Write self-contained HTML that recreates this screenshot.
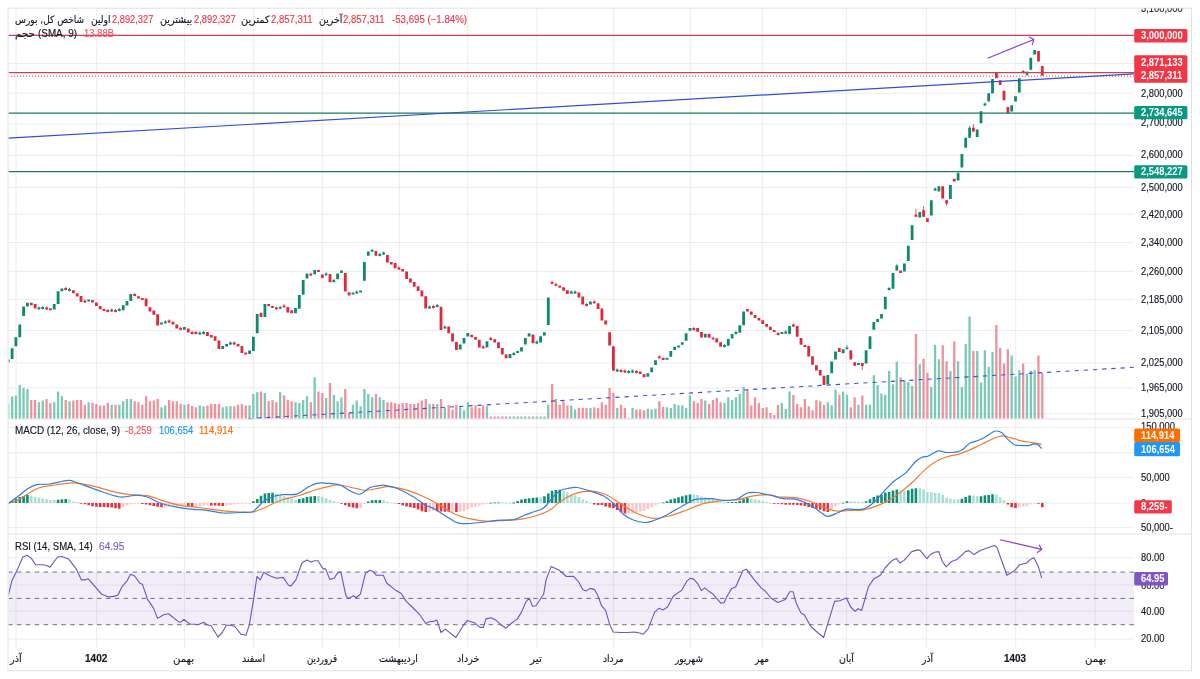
<!DOCTYPE html>
<html><head><meta charset="utf-8"><title>chart</title>
<style>
html,body{margin:0;padding:0;background:#fff;}
body{width:1200px;height:679px;position:relative;overflow:hidden;font-family:"Liberation Sans","DejaVu Sans",sans-serif;}
.ax{font-family:"Liberation Sans",sans-serif;font-size:10.2px;fill:#131722;stroke:#131722;stroke-width:0.15px;}
.axw{font-family:"Liberation Sans",sans-serif;font-size:10.2px;font-weight:bold;fill:#fff;}
.t{position:absolute;white-space:nowrap;font-size:10.2px;line-height:12px;color:#131722;transform-origin:0 0;-webkit-text-stroke:0.15px currentColor;}
.fa{font-family:"DejaVu Sans",sans-serif;font-size:10.2px;}
.rd{color:#f23645;}
</style></head><body>
<svg width="1200" height="679" viewBox="0 0 1200 679" style="position:absolute;left:0;top:0">
<defs><clipPath id="cm"><rect x="8.5" y="8.5" width="1125.5" height="410"/></clipPath>
<clipPath id="cd"><rect x="8.5" y="419.5" width="1125.5" height="114"/></clipPath>
<clipPath id="cr"><rect x="8.5" y="534.5" width="1125.5" height="113.5"/></clipPath>
<clipPath id="ca"><rect x="1134" y="8.5" width="57" height="639.5"/></clipPath>
<clipPath id="cp"><rect x="8.5" y="8.5" width="1125.5" height="640"/></clipPath></defs>
<g clip-path="url(#cp)"><path d="M16 8V648M96.7 8V648M184.4 8V648M253.3 8V648M322.7 8V648M399.3 8V648M467.7 8V648M536.9 8V648M613.3 8V648M690.7 8V648M762.7 8V648M846.7 8V648M926.7 8V648M1015.7 8V648M1095 8V648M8 63.4H1134M8 93.2H1134M8 124.2H1134M8 155.3H1134M8 187.3H1134M8 214.2H1134M8 242.5H1134M8 271.3H1134M8 299.4H1134M8 330.5H1134M8 362.9H1134M8 387.8H1134M8 413.8H1134M8 427.5H1134M8 452.8H1134M8 477.6H1134M8 503H1134M8 527.7H1134M8 557.8H1134M8 585.1H1134M8 611.2H1134M8 639H1134" stroke="#ececec" stroke-width="1" fill="none"/>
<rect x="8" y="572.1" width="1126" height="52.6" fill="#7e57c2" fill-opacity="0.1"/>
<path d="M8 572.1H1134" stroke="#6f7178" stroke-width="1" stroke-dasharray="4.5 4.4" fill="none"/>
<path d="M8 598.4H1134" stroke="#6f7178" stroke-width="1" stroke-dasharray="4.5 4.4" fill="none"/>
<path d="M8 624.7H1134" stroke="#6f7178" stroke-width="1" stroke-dasharray="4.5 4.4" fill="none"/>
<path d="M7.1 403.8h2.3v14.9h-2.3zM11 396.5h2.3v22.2h-2.3zM14.8 395.6h2.3v23.1h-2.3zM18.6 385h2.3v33.8h-2.3zM22.4 388.1h2.3v30.6h-2.3zM26.3 389h2.3v29.8h-2.3zM37.8 402.3h2.3v16.4h-2.3zM41.6 400.4h2.3v18.4h-2.3zM53.1 402.3h2.3v16.4h-2.3zM56.9 391.5h2.3v27.2h-2.3zM60.7 396.3h2.3v22.4h-2.3zM68.4 401.3h2.3v17.4h-2.3zM87.5 402.3h2.3v16.4h-2.3zM110.5 404.8h2.3v13.9h-2.3zM118.2 404.8h2.3v13.9h-2.3zM122 401.3h2.3v17.4h-2.3zM125.8 399h2.3v19.8h-2.3zM129.7 399h2.3v19.8h-2.3zM160.3 407.3h2.3v11.4h-2.3zM164.1 405.6h2.3v13.1h-2.3zM183.3 404.8h2.3v13.9h-2.3zM198.6 405.6h2.3v13.1h-2.3zM202.4 406.3h2.3v12.4h-2.3zM221.6 407.3h2.3v11.4h-2.3zM225.4 406.3h2.3v12.4h-2.3zM229.3 406.3h2.3v12.4h-2.3zM248.4 405.6h2.3v13.1h-2.3zM252.2 394h2.3v24.8h-2.3zM256.1 392.3h2.3v26.4h-2.3zM263.7 393.1h2.3v25.6h-2.3zM279 392.3h2.3v26.4h-2.3zM294.4 402.3h2.3v16.4h-2.3zM298.2 403.1h2.3v15.6h-2.3zM302 400h2.3v18.8h-2.3zM305.8 396.3h2.3v22.4h-2.3zM313.5 377.3h2.3v41.4h-2.3zM325 398.1h2.3v20.6h-2.3zM332.7 395h2.3v23.8h-2.3zM336.5 401.3h2.3v17.4h-2.3zM340.3 397.3h2.3v21.4h-2.3zM351.8 404.8h2.3v13.9h-2.3zM355.6 400.6h2.3v18.1h-2.3zM359.5 406.3h2.3v12.4h-2.3zM363.3 389h2.3v29.8h-2.3zM367.1 394h2.3v24.8h-2.3zM371 397.3h2.3v21.4h-2.3zM378.6 397.3h2.3v21.4h-2.3zM382.4 400h2.3v18.8h-2.3zM428.4 404h2.3v14.8h-2.3zM436.1 404h2.3v14.8h-2.3zM443.7 408.1h2.3v10.6h-2.3zM459 406.3h2.3v12.4h-2.3zM462.9 410.3h2.3v8.4h-2.3zM466.7 402.3h2.3v16.4h-2.3zM485.8 406.3h2.3v12.4h-2.3zM508.8 416.5h2.3v2.2h-2.3zM512.7 416.5h2.3v2.2h-2.3zM516.5 416.5h2.3v2.2h-2.3zM520.3 416.5h2.3v2.2h-2.3zM524.1 416.5h2.3v2.2h-2.3zM528 416.5h2.3v2.2h-2.3zM535.6 416.5h2.3v2.2h-2.3zM539.5 416.5h2.3v2.2h-2.3zM543.3 416.5h2.3v2.2h-2.3zM547.1 404.4h2.3v14.4h-2.3zM570.1 405.6h2.3v13.1h-2.3zM573.9 409.4h2.3v9.4h-2.3zM589.3 408.1h2.3v10.6h-2.3zM616.1 408.1h2.3v10.6h-2.3zM627.6 418h2.3v0.8h-2.3zM631.4 408.1h2.3v10.6h-2.3zM646.7 408.8h2.3v9.9h-2.3zM650.5 409.4h2.3v9.4h-2.3zM654.4 408.8h2.3v9.9h-2.3zM665.8 407.3h2.3v11.4h-2.3zM669.7 408.1h2.3v10.6h-2.3zM673.5 404h2.3v14.8h-2.3zM677.3 405.3h2.3v13.4h-2.3zM681.2 405.3h2.3v13.4h-2.3zM685 408.1h2.3v10.6h-2.3zM688.8 395.6h2.3v23.1h-2.3zM704.1 400.6h2.3v18.1h-2.3zM723.3 403.1h2.3v15.6h-2.3zM727.1 397.3h2.3v21.4h-2.3zM731 400h2.3v18.8h-2.3zM734.8 397.3h2.3v21.4h-2.3zM738.6 394h2.3v24.8h-2.3zM742.4 386.9h2.3v31.9h-2.3zM780.7 403.1h2.3v15.6h-2.3zM784.6 409h2.3v9.8h-2.3zM788.4 391.5h2.3v27.2h-2.3zM826.7 402.3h2.3v16.4h-2.3zM830.5 405.3h2.3v13.4h-2.3zM834.4 389.4h2.3v29.4h-2.3zM842 391.5h2.3v27.2h-2.3zM845.8 394.8h2.3v23.9h-2.3zM857.3 404.8h2.3v13.9h-2.3zM865 404.8h2.3v13.9h-2.3zM868.8 404.8h2.3v13.9h-2.3zM872.7 375.3h2.3v43.4h-2.3zM876.5 384.9h2.3v33.9h-2.3zM880.3 393.4h2.3v25.4h-2.3zM884.1 394.7h2.3v24.1h-2.3zM888 371h2.3v47.8h-2.3zM891.8 384.2h2.3v34.6h-2.3zM895.6 361.7h2.3v57.1h-2.3zM903.3 380.3h2.3v38.4h-2.3zM907.1 382h2.3v36.8h-2.3zM911 385.9h2.3v32.9h-2.3zM918.6 364.2h2.3v54.6h-2.3zM930.1 387.1h2.3v31.6h-2.3zM933.9 344.7h2.3v74.1h-2.3zM937.8 359.2h2.3v59.6h-2.3zM949.3 371h2.3v47.8h-2.3zM956.9 361.2h2.3v57.6h-2.3zM960.7 387.1h2.3v31.6h-2.3zM964.6 343.9h2.3v74.9h-2.3zM968.4 316.4h2.3v102.4h-2.3zM976.1 351h2.3v67.8h-2.3zM979.9 382.5h2.3v36.2h-2.3zM983.7 350.3h2.3v68.4h-2.3zM987.6 366.8h2.3v51.9h-2.3zM991.4 352h2.3v66.8h-2.3zM1010.5 355.4h2.3v63.4h-2.3zM1014.4 376.4h2.3v42.4h-2.3zM1018.2 370.2h2.3v48.6h-2.3zM1025.8 374.1h2.3v44.6h-2.3zM1029.7 370.7h2.3v48.1h-2.3zM1033.5 370.2h2.3v48.6h-2.3z" fill="#79c9b5"/>
<path d="M30.1 400h2.3v18.8h-2.3zM33.9 400h2.3v18.8h-2.3zM45.4 399h2.3v19.8h-2.3zM49.3 403.1h2.3v15.6h-2.3zM64.6 400h2.3v18.8h-2.3zM72.2 400.4h2.3v18.4h-2.3zM76.1 400h2.3v18.8h-2.3zM79.9 400h2.3v18.8h-2.3zM83.7 404.8h2.3v13.9h-2.3zM91.4 403.1h2.3v15.6h-2.3zM95.2 404h2.3v14.8h-2.3zM99 405.6h2.3v13.1h-2.3zM102.9 405.6h2.3v13.1h-2.3zM106.7 403.1h2.3v15.6h-2.3zM114.4 404.8h2.3v13.9h-2.3zM133.5 401.3h2.3v17.4h-2.3zM137.3 402.3h2.3v16.4h-2.3zM141.2 404.8h2.3v13.9h-2.3zM145 396.3h2.3v22.4h-2.3zM148.8 401.3h2.3v17.4h-2.3zM152.7 400.4h2.3v18.4h-2.3zM156.5 399h2.3v19.8h-2.3zM168 400h2.3v18.8h-2.3zM171.8 401.3h2.3v17.4h-2.3zM175.6 401.3h2.3v17.4h-2.3zM179.5 404h2.3v14.8h-2.3zM187.1 404h2.3v14.8h-2.3zM191 406h2.3v12.8h-2.3zM194.8 407.3h2.3v11.4h-2.3zM206.3 405.6h2.3v13.1h-2.3zM210.1 404h2.3v14.8h-2.3zM213.9 404h2.3v14.8h-2.3zM217.8 404h2.3v14.8h-2.3zM233.1 406.3h2.3v12.4h-2.3zM236.9 404.8h2.3v13.9h-2.3zM240.7 404h2.3v14.8h-2.3zM244.6 405.6h2.3v13.1h-2.3zM259.9 391.5h2.3v27.2h-2.3zM267.5 401.3h2.3v17.4h-2.3zM271.4 400.3h2.3v18.4h-2.3zM275.2 402.3h2.3v16.4h-2.3zM282.9 395.6h2.3v23.1h-2.3zM286.7 400h2.3v18.8h-2.3zM290.5 401.3h2.3v17.4h-2.3zM309.7 402.3h2.3v16.4h-2.3zM317.3 391.5h2.3v27.2h-2.3zM321.2 393.1h2.3v25.6h-2.3zM328.8 383.1h2.3v35.6h-2.3zM344.1 389h2.3v29.8h-2.3zM348 413.1h2.3v5.6h-2.3zM374.8 394h2.3v24.8h-2.3zM386.3 402.3h2.3v16.4h-2.3zM390.1 402.3h2.3v16.4h-2.3zM393.9 403.1h2.3v15.6h-2.3zM397.8 404h2.3v14.8h-2.3zM401.6 403.1h2.3v15.6h-2.3zM405.4 403.1h2.3v15.6h-2.3zM409.3 404h2.3v14.8h-2.3zM413.1 404h2.3v14.8h-2.3zM416.9 403.1h2.3v15.6h-2.3zM420.7 400.6h2.3v18.1h-2.3zM424.6 399h2.3v19.8h-2.3zM432.2 404h2.3v14.8h-2.3zM439.9 399h2.3v19.8h-2.3zM447.5 405h2.3v13.8h-2.3zM451.4 409.4h2.3v9.4h-2.3zM455.2 405h2.3v13.8h-2.3zM470.5 407.3h2.3v11.4h-2.3zM474.4 405.3h2.3v13.4h-2.3zM478.2 407.8h2.3v10.9h-2.3zM482 405.6h2.3v13.1h-2.3zM489.7 416.5h2.3v2.2h-2.3zM493.5 416.5h2.3v2.2h-2.3zM497.3 416.5h2.3v2.2h-2.3zM501.2 416.5h2.3v2.2h-2.3zM505 416.5h2.3v2.2h-2.3zM531.8 416.5h2.3v2.2h-2.3zM551 384h2.3v34.8h-2.3zM554.8 399h2.3v19.8h-2.3zM558.6 404.8h2.3v13.9h-2.3zM562.4 401.3h2.3v17.4h-2.3zM566.3 405.6h2.3v13.1h-2.3zM577.8 407.8h2.3v10.9h-2.3zM581.6 407.8h2.3v10.9h-2.3zM585.4 408.1h2.3v10.6h-2.3zM593.1 407.3h2.3v11.4h-2.3zM596.9 408.1h2.3v10.6h-2.3zM600.7 402.3h2.3v16.4h-2.3zM604.6 404.8h2.3v13.9h-2.3zM608.4 388.1h2.3v30.6h-2.3zM612.2 393.1h2.3v25.6h-2.3zM619.9 404.8h2.3v13.9h-2.3zM623.7 408.1h2.3v10.6h-2.3zM635.2 409.4h2.3v9.4h-2.3zM639 409.4h2.3v9.4h-2.3zM642.9 410.3h2.3v8.4h-2.3zM658.2 401.3h2.3v17.4h-2.3zM662 406.9h2.3v11.9h-2.3zM692.7 401.3h2.3v17.4h-2.3zM696.5 403.1h2.3v15.6h-2.3zM700.3 399h2.3v19.8h-2.3zM708 404h2.3v14.8h-2.3zM711.8 400h2.3v18.8h-2.3zM715.6 398.1h2.3v20.6h-2.3zM719.5 402.3h2.3v16.4h-2.3zM746.3 389.4h2.3v29.4h-2.3zM750.1 405.6h2.3v13.1h-2.3zM753.9 397.3h2.3v21.4h-2.3zM757.8 403.1h2.3v15.6h-2.3zM761.6 408.1h2.3v10.6h-2.3zM765.4 407.3h2.3v11.4h-2.3zM769.3 413.1h2.3v5.6h-2.3zM773.1 415h2.3v3.8h-2.3zM776.9 404.8h2.3v13.9h-2.3zM792.2 395h2.3v23.8h-2.3zM796.1 404h2.3v14.8h-2.3zM799.9 407.3h2.3v11.4h-2.3zM803.7 399h2.3v19.8h-2.3zM807.6 406.3h2.3v12.4h-2.3zM811.4 410.3h2.3v8.4h-2.3zM815.2 400.3h2.3v18.4h-2.3zM819 401.3h2.3v17.4h-2.3zM822.9 405h2.3v13.8h-2.3zM838.2 394.8h2.3v23.9h-2.3zM849.7 407.3h2.3v11.4h-2.3zM853.5 397.3h2.3v21.4h-2.3zM861.2 395.6h2.3v23.1h-2.3zM899.5 377.5h2.3v41.2h-2.3zM914.8 334.1h2.3v84.6h-2.3zM922.4 358.8h2.3v59.9h-2.3zM926.3 372.7h2.3v46.1h-2.3zM941.6 345.3h2.3v73.4h-2.3zM945.4 361.2h2.3v57.6h-2.3zM953.1 341.4h2.3v77.4h-2.3zM972.2 351h2.3v67.8h-2.3zM995.2 324.9h2.3v93.9h-2.3zM999 348.1h2.3v70.6h-2.3zM1002.9 363.4h2.3v55.4h-2.3zM1006.7 349.3h2.3v69.4h-2.3zM1022 363.4h2.3v55.4h-2.3zM1037.3 355.4h2.3v63.4h-2.3zM1041.2 373.1h2.3v45.6h-2.3z" fill="#f1909b"/>
<path d="M248 418.7L1134 367.3" stroke="#3f52cc" stroke-width="1.1" stroke-dasharray="4.2 5" fill="none"/>
<path d="M38.9 306.3V309.9M42.7 305.9V309.5M69.5 287.9V291.5M111.7 308.4V312M119.3 307.9V311.5M165.3 320.2V323.8M199.8 331.4V335M203.6 330.9V334.5M230.4 341.4V345M280.2 305.7V309.3M326.1 272.2V275.8M333.8 278.9V282.5M356.8 290.4V294M372.1 248.7V252.2M379.8 252.9V256.5M383.6 251.4V255M429.6 305.4V309M437.2 303.9V307.5M444.9 325.4V329M513.8 351.9V355.5M536.8 340.4V344M571.3 290.4V294M575.1 290.4V294M617.2 368.4V372M628.7 369.9V373.5M632.5 369.4V373M724.4 343.9V347.5M735.9 330.9V334.5M785.7 330.4V334M847 345V349M889.1 286.9V290.5M896.8 264V270.5M935.1 187.4V191M969.6 125.8V137.7M984.9 102.4V106M1027 71.7V76.2" stroke="#0c8a6c" stroke-width="0.8" fill="none"/>
<path d="M46.6 306.4V310M65.7 286.9V290.5M84.9 299.4V303M107.8 308.9V312.5M115.5 308.9V312.5M134.7 292.9V296.5M169.1 319.4V323M180.6 326.7V330.3M192.1 330.9V334.5M195.9 330.9V334.5M234.2 341.4V345M276.4 306.2V309.8M284 304.2V307.8M310.8 272.6V276.2M398.9 266.4V270M433.4 304.9V308.5M483.2 345.2V348.8M490.8 336.9V340.5M552.1 280.7V284.3M555.9 282.7V286.3M586.6 302.9V306.5M594.2 300.2V303.8M621 368.9V372.5M624.9 369.4V373M636.4 369.9V373.5M659.3 355.2V358.8M693.8 326.9V330.5M778.1 331.9V335.5M793.4 323.4V327M862.3 363V370M915.9 209.2V216.7M923.6 206.1V216.7M946.6 200.2V205.6M973.4 124V131.5M1023.2 69.9V73.5" stroke="#e2263b" stroke-width="0.8" fill="none"/>
<path d="M6.9 359.6h2.8v2.6h-2.8zM10.7 348.3h2.8v10.6h-2.8zM14.5 337.3h2.8v9h-2.8zM18.4 324.4h2.8v12.9h-2.8zM22.2 306.5h2.8v9.5h-2.8zM26 302.8h2.8v3.7h-2.8zM37.5 307.5h2.8v1.8h-2.8zM41.3 307.1h2.8v1.8h-2.8zM52.8 304h2.8v5.4h-2.8zM56.7 291.3h2.8v12.6h-2.8zM60.5 288.6h2.8v2.7h-2.8zM68.1 289.1h2.8v1.8h-2.8zM87.3 299.5h2.8v2h-2.8zM110.3 309.6h2.8v1.8h-2.8zM117.9 309.1h2.8v1.8h-2.8zM121.8 305.2h2.8v5h-2.8zM125.6 301h2.8v4.5h-2.8zM129.4 293.9h2.8v7.1h-2.8zM160.1 322.5h2.8v2h-2.8zM163.9 321.4h2.8v1.8h-2.8zM183 327h2.8v2.7h-2.8zM198.4 332.6h2.8v1.8h-2.8zM202.2 332.1h2.8v1.8h-2.8zM221.3 346h2.8v3h-2.8zM225.2 343.9h2.8v2.6h-2.8zM229 342.6h2.8v1.8h-2.8zM248.2 350.4h2.8v3.6h-2.8zM252 336.8h2.8v14.2h-2.8zM255.8 313.9h2.8v19.4h-2.8zM263.5 304h2.8v12.9h-2.8zM278.8 306.9h2.8v1.8h-2.8zM294.1 308h2.8v5.2h-2.8zM297.9 295.1h2.8v13.7h-2.8zM301.8 280h2.8v14.8h-2.8zM305.6 273.4h2.8v5.2h-2.8zM313.3 270h2.8v4.2h-2.8zM324.7 273.4h2.8v1.8h-2.8zM332.4 280.1h2.8v1.8h-2.8zM336.2 273.4h2.8v5.9h-2.8zM340.1 270.5h2.8v2.5h-2.8zM351.6 292.5h2.8v2h-2.8zM355.4 291.6h2.8v1.8h-2.8zM359.2 290.5h2.8v2h-2.8zM363 262.1h2.8v18.7h-2.8zM366.9 251.4h2.8v4.4h-2.8zM370.7 249.8h2.8v1.8h-2.8zM378.4 254.1h2.8v1.8h-2.8zM382.2 252.6h2.8v1.8h-2.8zM428.2 306.6h2.8v1.8h-2.8zM435.8 305.1h2.8v1.8h-2.8zM443.5 326.6h2.8v1.8h-2.8zM458.8 344.6h2.8v4.9h-2.8zM462.6 338h2.8v5.4h-2.8zM466.4 333h2.8v3.6h-2.8zM485.6 341.2h2.8v6.2h-2.8zM508.6 354.1h2.8v4.1h-2.8zM512.4 353.1h2.8v1.8h-2.8zM516.2 351h2.8v2h-2.8zM520.1 347.2h2.8v4.3h-2.8zM523.9 338.1h2.8v6.4h-2.8zM527.7 333.2h2.8v3.4h-2.8zM535.4 341.6h2.8v1.8h-2.8zM539.2 336.3h2.8v6.2h-2.8zM543 332.2h2.8v3.4h-2.8zM546.9 297.4h2.8v27.7h-2.8zM569.9 291.6h2.8v1.8h-2.8zM573.7 291.6h2.8v1.8h-2.8zM589 301.4h2.8v3.1h-2.8zM615.8 369.6h2.8v1.8h-2.8zM627.3 371.1h2.8v1.8h-2.8zM631.1 370.6h2.8v1.8h-2.8zM646.4 373.2h2.8v3.5h-2.8zM650.3 367.6h2.8v4.7h-2.8zM654.1 360.3h2.8v4.7h-2.8zM665.6 357.7h2.8v2h-2.8zM669.4 351.1h2.8v5.7h-2.8zM673.3 346.7h2.8v3.4h-2.8zM677.1 345.5h2.8v2h-2.8zM680.9 342.2h2.8v2.6h-2.8zM684.7 333.2h2.8v7.6h-2.8zM688.6 328.1h2.8v2.7h-2.8zM703.9 333.8h2.8v3.6h-2.8zM723 345.1h2.8v1.8h-2.8zM726.9 339.1h2.8v6.7h-2.8zM730.7 333.9h2.8v4.7h-2.8zM734.5 332.1h2.8v1.8h-2.8zM738.4 325.3h2.8v7.4h-2.8zM742.2 311.4h2.8v13.9h-2.8zM780.5 332h2.8v2h-2.8zM784.3 331.6h2.8v1.8h-2.8zM788.2 326.1h2.8v7.8h-2.8zM826.4 375.1h2.8v9.1h-2.8zM830.3 361.6h2.8v11.7h-2.8zM834.1 351.6h2.8v7.9h-2.8zM841.8 349.3h2.8v4h-2.8zM845.6 347.4h2.8v1.8h-2.8zM857.1 363h2.8v2h-2.8zM864.7 350.3h2.8v13.1h-2.8zM868.6 336.2h2.8v12.7h-2.8zM872.4 322h2.8v7.8h-2.8zM876.2 319h2.8v3h-2.8zM880.1 313.9h2.8v4.6h-2.8zM883.9 296.8h2.8v12.4h-2.8zM887.7 288.1h2.8v1.8h-2.8zM891.6 273.1h2.8v15.7h-2.8zM895.4 265.5h2.8v5h-2.8zM903 263.5h2.8v8h-2.8zM906.9 245.7h2.8v15.3h-2.8zM910.7 225.2h2.8v14.7h-2.8zM918.4 212.1h2.8v5.4h-2.8zM929.9 200.3h2.8v15.3h-2.8zM933.7 188.6h2.8v1.8h-2.8zM937.5 186.3h2.8v5.2h-2.8zM949 184.9h2.8v14.2h-2.8zM956.7 172.8h2.8v7.7h-2.8zM960.5 154h2.8v13.5h-2.8zM964.3 137.7h2.8v10h-2.8zM968.2 127.8h2.8v9.9h-2.8zM975.8 129.4h2.8v7.7h-2.8zM979.6 111.3h2.8v11.9h-2.8zM983.5 103.6h2.8v1.8h-2.8zM987.3 93.3h2.8v8.2h-2.8zM991.1 79h2.8v14.6h-2.8zM1010.3 105.2h2.8v6.3h-2.8zM1014.1 96.2h2.8v5.3h-2.8zM1017.9 78.3h2.8v14.2h-2.8zM1025.6 71.7h2.8v3.1h-2.8zM1029.4 57.8h2.8v11.9h-2.8zM1033.3 49.9h2.8v4.6h-2.8z" fill="#0c8a6c"/>
<path d="M29.9 302.8h2.8v2.4h-2.8zM33.7 304.1h2.8v4.4h-2.8zM45.2 307.6h2.8v1.8h-2.8zM49 308.2h2.8v2h-2.8zM64.3 288.1h2.8v1.8h-2.8zM72 290.3h2.8v3h-2.8zM75.8 293.3h2.8v3.3h-2.8zM79.6 296h2.8v5.9h-2.8zM83.5 300.6h2.8v1.8h-2.8zM91.1 299.9h2.8v2.6h-2.8zM95 302.5h2.8v3.4h-2.8zM98.8 305.9h2.8v3.3h-2.8zM102.6 309h2.8v2h-2.8zM106.4 310.1h2.8v1.8h-2.8zM114.1 310.1h2.8v1.8h-2.8zM133.3 294.1h2.8v1.8h-2.8zM137.1 296.2h2.8v2.4h-2.8zM140.9 298h2.8v2h-2.8zM144.7 298.6h2.8v7.7h-2.8zM148.6 307.2h2.8v4.4h-2.8zM152.4 310.5h2.8v4.2h-2.8zM156.2 314.2h2.8v11.2h-2.8zM167.7 320.6h2.8v1.8h-2.8zM171.6 321.8h2.8v2.6h-2.8zM175.4 324.4h2.8v4h-2.8zM179.2 327.9h2.8v1.8h-2.8zM186.9 328.4h2.8v4h-2.8zM190.7 332.1h2.8v1.8h-2.8zM194.5 332.1h2.8v1.8h-2.8zM206 331.9h2.8v4h-2.8zM209.9 335h2.8v2.5h-2.8zM213.7 336.3h2.8v4.4h-2.8zM217.5 340.4h2.8v8.6h-2.8zM232.8 342.6h2.8v1.8h-2.8zM236.7 343.9h2.8v2.6h-2.8zM240.5 346h2.8v7h-2.8zM244.3 352.5h2.8v2h-2.8zM259.6 312.8h2.8v4.1h-2.8zM267.3 304h2.8v2.3h-2.8zM271.1 306h2.8v2h-2.8zM275 307.4h2.8v1.8h-2.8zM282.6 305.4h2.8v1.8h-2.8zM286.4 307.1h2.8v5.3h-2.8zM290.3 310.3h2.8v2.9h-2.8zM309.4 273.8h2.8v1.8h-2.8zM317.1 270h2.8v2h-2.8zM320.9 274.5h2.8v3.4h-2.8zM328.6 273.9h2.8v8.4h-2.8zM343.9 273h2.8v18.6h-2.8zM347.7 292.2h2.8v3.3h-2.8zM374.5 250.9h2.8v4.9h-2.8zM386 255h2.8v7.6h-2.8zM389.9 262h2.8v2.5h-2.8zM393.7 263h2.8v5.3h-2.8zM397.5 267.6h2.8v1.8h-2.8zM401.3 269h2.8v2.5h-2.8zM405.2 271.4h2.8v7.5h-2.8zM409 278.5h2.8v3.9h-2.8zM412.8 282h2.8v4.8h-2.8zM416.7 286.3h2.8v4.6h-2.8zM420.5 290.4h2.8v6.1h-2.8zM424.3 296.2h2.8v12.4h-2.8zM432 306.1h2.8v1.8h-2.8zM439.6 306.8h2.8v23.3h-2.8zM447.3 326.6h2.8v6.7h-2.8zM451.1 333.3h2.8v8.3h-2.8zM455 342.1h2.8v7.8h-2.8zM470.3 334.8h2.8v2.5h-2.8zM474.1 337.1h2.8v2.6h-2.8zM477.9 339.7h2.8v7.7h-2.8zM481.8 346.4h2.8v1.8h-2.8zM489.4 338.1h2.8v1.8h-2.8zM493.3 339.2h2.8v3.3h-2.8zM497.1 342.3h2.8v5.9h-2.8zM500.9 347.9h2.8v6.7h-2.8zM504.7 354.4h2.8v3.8h-2.8zM531.6 334.5h2.8v8.8h-2.8zM550.7 281.9h2.8v1.8h-2.8zM554.5 283.9h2.8v1.8h-2.8zM558.4 285.5h2.8v2.2h-2.8zM562.2 287.3h2.8v3.5h-2.8zM566 290.3h2.8v3.6h-2.8zM577.5 292.6h2.8v4.8h-2.8zM581.3 296.5h2.8v8h-2.8zM585.2 304.1h2.8v1.8h-2.8zM592.8 301.4h2.8v1.8h-2.8zM596.7 303.2h2.8v5.7h-2.8zM600.5 308.5h2.8v11.9h-2.8zM604.3 320.4h2.8v4h-2.8zM608.2 332.2h2.8v13.4h-2.8zM612 346.3h2.8v24.4h-2.8zM619.6 370.1h2.8v1.8h-2.8zM623.5 370.6h2.8v1.8h-2.8zM635 371.1h2.8v1.8h-2.8zM638.8 371.6h2.8v2.4h-2.8zM642.6 374.3h2.8v2.9h-2.8zM657.9 356.4h2.8v1.8h-2.8zM661.8 357.7h2.8v2.3h-2.8zM692.4 328.1h2.8v1.8h-2.8zM696.2 328.1h2.8v3.7h-2.8zM700.1 332.1h2.8v5.3h-2.8zM707.7 333.8h2.8v4h-2.8zM711.6 337.5h2.8v2h-2.8zM715.4 338.2h2.8v4.2h-2.8zM719.2 342.2h2.8v4.5h-2.8zM746 309.1h2.8v2.3h-2.8zM749.9 311.4h2.8v3.3h-2.8zM753.7 315h2.8v3h-2.8zM757.5 318h2.8v2.6h-2.8zM761.3 320.2h2.8v3.7h-2.8zM765.2 323.9h2.8v2.9h-2.8zM769 326.8h2.8v3.3h-2.8zM772.8 330h2.8v2h-2.8zM776.7 333.1h2.8v1.8h-2.8zM792 324.6h2.8v1.8h-2.8zM795.8 326.1h2.8v10.7h-2.8zM799.6 337.9h2.8v6.9h-2.8zM803.5 345h2.8v2h-2.8zM807.3 346h2.8v10.6h-2.8zM811.1 356.3h2.8v8.5h-2.8zM815 365.2h2.8v5.3h-2.8zM818.8 370.1h2.8v5.3h-2.8zM822.6 375.8h2.8v9.3h-2.8zM837.9 348h2.8v4.1h-2.8zM849.4 350.3h2.8v9.2h-2.8zM853.3 362.2h2.8v3.5h-2.8zM860.9 363h2.8v3h-2.8zM899.2 270.5h2.8v2.5h-2.8zM914.5 214.8h2.8v1.9h-2.8zM922.2 210.3h2.8v6.4h-2.8zM926 218.3h2.8v3.8h-2.8zM941.3 186.3h2.8v12.1h-2.8zM945.2 200.2h2.8v3.2h-2.8zM952.8 178.8h2.8v2.7h-2.8zM972 127.8h2.8v3.7h-2.8zM995 73h2.8v5.3h-2.8zM998.8 80.3h2.8v4.7h-2.8zM1002.6 90.7h2.8v9.5h-2.8zM1006.5 107.1h2.8v6.1h-2.8zM1021.8 71.1h2.8v1.8h-2.8zM1037.1 50.9h2.8v10.6h-2.8zM1040.9 66h2.8v9.7h-2.8z" fill="#e2263b"/>
<path d="M8 35.4H1134" stroke="#d2404f" stroke-width="1.3" fill="none"/>
<path d="M8 72.6H1134" stroke="#d2404f" stroke-width="1.3" fill="none"/>
<path d="M8 76.2H1134" stroke="#f23645" stroke-width="1" stroke-dasharray="1 2" fill="none"/>
<path d="M8 113.1H1134" stroke="#1b7a5f" stroke-width="1.2" fill="none"/>
<path d="M8 171.6H1134" stroke="#1b7a5f" stroke-width="1.2" fill="none"/>
<path d="M8 138.2L1134 73.8" stroke="#2f4fd6" stroke-width="1.2" fill="none"/>
<path d="M988.2 58.1L1033.8 39.4M1029.3 37.1L1033.8 39.4L1032.4 44.4" stroke="#8e3cc0" stroke-width="1.1" fill="none" stroke-linecap="round" stroke-linejoin="round"/>
<path d="M1000.2 539.7L1041.8 549.4M1039.3 545.1L1041.8 549.4L1037.4 552.5" stroke="#8e3cc0" stroke-width="1.1" fill="none" stroke-linecap="round" stroke-linejoin="round"/>
<path d="M7 502.9h2.6v0.8h-2.6zM10.8 501h2.6v1.9h-2.6zM14.6 498.7h2.6v4.2h-2.6zM18.5 497h2.6v5.9h-2.6zM22.3 496h2.6v6.9h-2.6zM26.1 495h2.6v7.9h-2.6zM56.8 499.7h2.6v3.2h-2.6zM60.6 499.3h2.6v3.6h-2.6zM64.4 498.9h2.6v4h-2.6zM252.1 501.2h2.6v1.7h-2.6zM255.9 499.1h2.6v3.8h-2.6zM259.7 495.8h2.6v7.1h-2.6zM263.6 493.5h2.6v9.4h-2.6zM267.4 492.9h2.6v10h-2.6zM271.2 492.7h2.6v10.2h-2.6zM298 498.9h2.6v4h-2.6zM301.9 498.2h2.6v4.7h-2.6zM305.7 497h2.6v5.9h-2.6zM309.5 496.4h2.6v6.5h-2.6zM313.4 495.9h2.6v7h-2.6zM367 501.5h2.6v1.4h-2.6zM370.8 500.2h2.6v2.7h-2.6zM374.6 500h2.6v2.9h-2.6zM378.5 499.9h2.6v3h-2.6zM489.5 502.8h2.6v0.8h-2.6zM493.4 502.5h2.6v0.8h-2.6zM497.2 502.4h2.6v0.8h-2.6zM512.5 502.6h2.6v0.8h-2.6zM516.3 501.1h2.6v1.8h-2.6zM520.2 499.5h2.6v3.4h-2.6zM524 498.8h2.6v4.1h-2.6zM527.8 498.3h2.6v4.6h-2.6zM531.7 497.8h2.6v5.1h-2.6zM535.5 497.4h2.6v5.5h-2.6zM543.1 496.3h2.6v6.6h-2.6zM547 493.6h2.6v9.3h-2.6zM550.8 490.8h2.6v12.1h-2.6zM554.6 490.1h2.6v12.8h-2.6zM558.5 489.8h2.6v13.1h-2.6zM661.9 502.5h2.6v0.8h-2.6zM665.7 501.2h2.6v1.7h-2.6zM669.5 499.4h2.6v3.5h-2.6zM673.4 498.4h2.6v4.5h-2.6zM677.2 497.3h2.6v5.6h-2.6zM681 496.3h2.6v6.6h-2.6zM684.8 495.3h2.6v7.6h-2.6zM688.7 494.4h2.6v8.5h-2.6zM727 502.3h2.6v0.8h-2.6zM730.8 502.1h2.6v0.8h-2.6zM734.6 502h2.6v0.9h-2.6zM738.5 500.7h2.6v2.2h-2.6zM742.3 499.2h2.6v3.7h-2.6zM746.1 498h2.6v4.9h-2.6zM841.9 502.8h2.6v0.8h-2.6zM845.7 501.3h2.6v1.6h-2.6zM864.8 501.2h2.6v1.6h-2.6zM868.7 499.2h2.6v3.7h-2.6zM872.5 497.1h2.6v5.8h-2.6zM876.3 495.4h2.6v7.5h-2.6zM880.2 494.6h2.6v8.3h-2.6zM884 492.5h2.6v10.4h-2.6zM887.8 492.1h2.6v10.8h-2.6zM891.7 490.4h2.6v12.5h-2.6zM895.5 489.6h2.6v13.3h-2.6zM907 490.2h2.6v12.7h-2.6zM910.8 488.8h2.6v14.1h-2.6zM914.6 488.2h2.6v14.7h-2.6zM960.6 498.8h2.6v4.1h-2.6zM964.4 497.1h2.6v5.8h-2.6zM968.3 495.4h2.6v7.5h-2.6zM979.7 496.2h2.6v6.6h-2.6zM983.6 495.2h2.6v7.7h-2.6zM987.4 495h2.6v7.9h-2.6zM991.2 494.3h2.6v8.6h-2.6z" fill="#0e8f74"/>
<path d="M30 495.9h2.6v7h-2.6zM33.8 496.8h2.6v6.1h-2.6zM37.6 497.6h2.6v5.3h-2.6zM41.4 498.4h2.6v4.5h-2.6zM45.3 499.3h2.6v3.6h-2.6zM49.1 500h2.6v2.9h-2.6zM52.9 500h2.6v2.9h-2.6zM68.2 499.4h2.6v3.5h-2.6zM72.1 501.4h2.6v1.5h-2.6zM75.9 502h2.6v0.9h-2.6zM275.1 494h2.6v8.9h-2.6zM278.9 495.4h2.6v7.5h-2.6zM282.7 496.3h2.6v6.6h-2.6zM286.5 497.4h2.6v5.5h-2.6zM290.4 498.6h2.6v4.3h-2.6zM294.2 499.7h2.6v3.2h-2.6zM317.2 495.9h2.6v7h-2.6zM321 497.1h2.6v5.8h-2.6zM324.8 498.2h2.6v4.7h-2.6zM328.7 499.9h2.6v3h-2.6zM332.5 501.2h2.6v1.7h-2.6zM336.3 502.3h2.6v0.8h-2.6zM382.3 500.2h2.6v2.7h-2.6zM386.1 501.8h2.6v1.1h-2.6zM390 502.5h2.6v0.8h-2.6zM393.8 502.9h2.6v0.8h-2.6zM501 502.5h2.6v0.8h-2.6zM504.8 502.6h2.6v0.8h-2.6zM508.7 502.7h2.6v0.8h-2.6zM539.3 497.6h2.6v5.3h-2.6zM562.3 491h2.6v11.9h-2.6zM566.1 492.2h2.6v10.7h-2.6zM570 494.2h2.6v8.7h-2.6zM573.8 495.2h2.6v7.7h-2.6zM577.6 497h2.6v5.9h-2.6zM581.4 499.5h2.6v3.4h-2.6zM585.3 501h2.6v1.9h-2.6zM589.1 502.7h2.6v0.8h-2.6zM692.5 494.5h2.6v8.4h-2.6zM696.3 494.9h2.6v8h-2.6zM700.2 496.5h2.6v6.4h-2.6zM704 497.6h2.6v5.3h-2.6zM707.8 498.2h2.6v4.7h-2.6zM711.7 499.1h2.6v3.8h-2.6zM715.5 500.6h2.6v2.3h-2.6zM719.3 501.9h2.6v1h-2.6zM723.1 502.4h2.6v0.8h-2.6zM750 498.8h2.6v4.1h-2.6zM753.8 499.2h2.6v3.7h-2.6zM757.6 499.8h2.6v3.1h-2.6zM761.4 501h2.6v1.9h-2.6zM765.3 502h2.6v0.9h-2.6zM769.1 502.9h2.6v0.8h-2.6zM849.5 501.4h2.6v1.5h-2.6zM853.4 501.6h2.6v1.3h-2.6zM857.2 501.7h2.6v1.2h-2.6zM861 501.8h2.6v1.1h-2.6zM899.3 490.4h2.6v12.5h-2.6zM903.1 490.4h2.6v12.5h-2.6zM918.5 488.2h2.6v14.7h-2.6zM922.3 489.6h2.6v13.3h-2.6zM926.1 492.1h2.6v10.8h-2.6zM930 492.1h2.6v10.8h-2.6zM933.8 492.9h2.6v10h-2.6zM937.6 493.2h2.6v9.7h-2.6zM941.4 495h2.6v7.9h-2.6zM945.3 497.7h2.6v5.2h-2.6zM949.1 498.8h2.6v4.1h-2.6zM952.9 499.6h2.6v3.3h-2.6zM956.8 499.3h2.6v3.6h-2.6zM972.1 495.4h2.6v7.5h-2.6zM975.9 496.2h2.6v6.6h-2.6zM995.1 494.8h2.6v8.1h-2.6zM998.9 497.3h2.6v5.6h-2.6zM1002.7 500.2h2.6v2.7h-2.6z" fill="#a9ded3"/>
<path d="M121.9 502.9h2.6v4.4h-2.6zM125.7 502.9h2.6v2.7h-2.6zM129.5 502.9h2.6v1.4h-2.6zM133.4 502.9h2.6v0.8h-2.6zM137.2 502.9h2.6v0.8h-2.6zM164 502.9h2.6v3.9h-2.6zM167.8 502.9h2.6v3.9h-2.6zM171.7 502.9h2.6v3.8h-2.6zM175.5 502.9h2.6v3.8h-2.6zM179.3 502.9h2.6v3.4h-2.6zM183.1 502.9h2.6v3h-2.6zM194.6 502.9h2.6v3.4h-2.6zM198.5 502.9h2.6v3h-2.6zM202.3 502.9h2.6v2.6h-2.6zM206.1 502.9h2.6v2.3h-2.6zM225.3 502.9h2.6v2.6h-2.6zM229.1 502.9h2.6v2.1h-2.6zM232.9 502.9h2.6v1.5h-2.6zM236.8 502.9h2.6v1h-2.6zM240.6 502.9h2.6v0.8h-2.6zM244.4 502.9h2.6v0.8h-2.6zM248.3 502.9h2.6v0.8h-2.6zM359.3 502.9h2.6v5.2h-2.6zM363.1 502.9h2.6v1.2h-2.6zM428.3 502.9h2.6v8.6h-2.6zM432.1 502.9h2.6v8.2h-2.6zM451.2 502.9h2.6v8.8h-2.6zM458.9 502.9h2.6v8.9h-2.6zM462.7 502.9h2.6v8.1h-2.6zM466.5 502.9h2.6v6.4h-2.6zM470.4 502.9h2.6v4.7h-2.6zM474.2 502.9h2.6v3.8h-2.6zM478 502.9h2.6v2.9h-2.6zM481.9 502.9h2.6v1.7h-2.6zM485.7 502.9h2.6v0.8h-2.6zM627.4 502.9h2.6v10.6h-2.6zM631.2 502.9h2.6v10.5h-2.6zM635.1 502.9h2.6v9.1h-2.6zM638.9 502.9h2.6v8.5h-2.6zM642.7 502.9h2.6v8.1h-2.6zM646.5 502.9h2.6v6.3h-2.6zM650.4 502.9h2.6v4h-2.6zM654.2 502.9h2.6v2.2h-2.6zM658 502.9h2.6v0.9h-2.6zM830.4 502.9h2.6v6.2h-2.6zM834.2 502.9h2.6v3.2h-2.6zM838 502.9h2.6v1.5h-2.6zM1018 502.9h2.6v4.2h-2.6zM1021.9 502.9h2.6v3.6h-2.6zM1025.7 502.9h2.6v3.4h-2.6zM1029.5 502.9h2.6v1.7h-2.6zM1033.4 502.9h2.6v0.8h-2.6z" fill="#f9c6cb"/>
<path d="M79.7 502.9h2.6v0.8h-2.6zM83.6 502.9h2.6v1.3h-2.6zM87.4 502.9h2.6v2.3h-2.6zM91.2 502.9h2.6v3.3h-2.6zM95.1 502.9h2.6v3.8h-2.6zM98.9 502.9h2.6v4h-2.6zM102.7 502.9h2.6v4.2h-2.6zM106.5 502.9h2.6v4.4h-2.6zM110.4 502.9h2.6v4.7h-2.6zM114.2 502.9h2.6v5.3h-2.6zM118 502.9h2.6v5.9h-2.6zM141 502.9h2.6v1h-2.6zM144.8 502.9h2.6v1.6h-2.6zM148.7 502.9h2.6v2.4h-2.6zM152.5 502.9h2.6v3.1h-2.6zM156.3 502.9h2.6v3.9h-2.6zM160.2 502.9h2.6v4.3h-2.6zM187 502.9h2.6v3.7h-2.6zM190.8 502.9h2.6v3.8h-2.6zM210 502.9h2.6v2.5h-2.6zM213.8 502.9h2.6v2.7h-2.6zM217.6 502.9h2.6v2.9h-2.6zM221.4 502.9h2.6v3.1h-2.6zM340.2 502.9h2.6v0.8h-2.6zM344 502.9h2.6v2.3h-2.6zM347.8 502.9h2.6v3.9h-2.6zM351.7 502.9h2.6v4.7h-2.6zM355.5 502.9h2.6v5.3h-2.6zM397.6 502.9h2.6v1h-2.6zM401.4 502.9h2.6v2.5h-2.6zM405.3 502.9h2.6v3.6h-2.6zM409.1 502.9h2.6v4.3h-2.6zM412.9 502.9h2.6v5.1h-2.6zM416.8 502.9h2.6v6.7h-2.6zM420.6 502.9h2.6v8.3h-2.6zM424.4 502.9h2.6v9h-2.6zM435.9 502.9h2.6v8.4h-2.6zM439.7 502.9h2.6v8.7h-2.6zM443.6 502.9h2.6v8.9h-2.6zM447.4 502.9h2.6v8.9h-2.6zM455.1 502.9h2.6v9.2h-2.6zM592.9 502.9h2.6v1.6h-2.6zM596.8 502.9h2.6v2h-2.6zM600.6 502.9h2.6v2.2h-2.6zM604.4 502.9h2.6v3.5h-2.6zM608.3 502.9h2.6v4.5h-2.6zM612.1 502.9h2.6v5.1h-2.6zM615.9 502.9h2.6v7.2h-2.6zM619.7 502.9h2.6v9.4h-2.6zM623.6 502.9h2.6v10.7h-2.6zM772.9 502.9h2.6v0.8h-2.6zM776.8 502.9h2.6v0.8h-2.6zM780.6 502.9h2.6v1.4h-2.6zM784.4 502.9h2.6v1.8h-2.6zM788.3 502.9h2.6v1.8h-2.6zM792.1 502.9h2.6v1.8h-2.6zM795.9 502.9h2.6v2.1h-2.6zM799.7 502.9h2.6v2.7h-2.6zM803.6 502.9h2.6v3.2h-2.6zM807.4 502.9h2.6v4.1h-2.6zM811.2 502.9h2.6v5h-2.6zM815.1 502.9h2.6v5.8h-2.6zM818.9 502.9h2.6v6.9h-2.6zM822.7 502.9h2.6v8.3h-2.6zM826.5 502.9h2.6v9.1h-2.6zM1006.6 502.9h2.6v1.7h-2.6zM1010.4 502.9h2.6v4.4h-2.6zM1014.2 502.9h2.6v5h-2.6zM1037.2 502.9h2.6v0.9h-2.6zM1041 502.9h2.6v4.4h-2.6z" fill="#ec2f40"/>
<path d="M8.8 503C10.4 502.5 13.7 502.4 18.4 500C23.1 497.6 30.7 491.2 36.8 488.7C42.9 486.2 49.1 486 55.2 485C61.4 484 67.6 482.7 73.7 482.8C79.8 482.9 86 484.5 92.1 485.9C98.2 487.2 104.4 489.4 110.5 490.9C116.6 492.3 122.8 493.8 128.9 494.6C135 495.4 141.2 494.5 147.3 495.7C153.4 496.9 159.5 499.9 165.7 501.6C171.8 503.4 180.1 505.4 184.2 506.2C188.2 507 186.2 505.9 190 506.3C193.8 506.7 201.1 507.9 206.7 508.7C212.2 509.4 217.8 510.2 223.3 510.8C228.9 511.4 235 511.8 240 512C245 512.2 249.1 512.8 253.3 512C257.5 511.2 260.3 509.5 265 507.5C269.7 505.5 276.1 501.9 281.7 500C287.2 498.1 292.8 497.5 298.3 495.8C303.9 494.1 309.4 491.7 315 490C320.6 488.3 327.5 486.6 331.7 485.8C335.9 485 335.8 484.5 340 485C344.2 485.5 352.5 487.8 356.7 488.7C360.9 489.6 361.7 490.3 365 490.3C368.3 490.3 372.8 489.3 376.7 488.7C380.6 488.1 383.6 486.5 388.3 486.7C393 486.9 399.4 488.2 405 489.7C410.6 491.2 416.1 493.4 421.7 495.8C427.2 498.2 432.8 501.1 438.3 504.2C443.9 507.3 449.4 511.7 455 514.2C460.6 516.7 466.1 518 471.7 519.2C477.2 520.4 482.8 521.1 488.3 521.3C493.9 521.5 499.4 520.6 505 520.3C510.6 519.9 516.2 520.1 521.7 519.2C527.2 518.3 533.6 516.5 538.3 515C543 513.5 546.4 512.2 550 510C553.6 507.8 556.4 504.2 560 501.7C563.6 499.2 567.8 496.7 571.7 495C575.6 493.3 579.4 492.3 583.3 491.7C587.2 491.1 591.1 490.8 595 491.3C598.9 491.9 602.5 493 606.7 495C610.9 497 615 500.2 620 503.3C625 506.4 631.2 510.8 636.7 513.3C642.2 515.8 647.8 517.9 653.3 518.3C658.8 518.7 664.4 517.2 670 515.8C675.6 514.4 681.2 512 686.7 510C692.2 508 697.8 505.2 703.3 503.7C708.8 502.2 714.4 501.4 720 500.8C725.6 500.2 731.2 500.8 736.7 500C742.2 499.2 747.8 496.6 753.3 495.8C758.8 495 765.9 494.8 770 495C774.1 495.2 773.5 496.4 777.7 496.9C781.9 497.3 790 497 795.3 497.7C800.6 498.4 805.1 499.8 809.5 501.3C813.9 502.8 817.4 505 821.8 506.6C826.2 508.2 831.6 510.4 836 511C840.4 511.6 843.9 510.6 848.3 510.5C852.7 510.4 858.1 510.8 862.5 510.1C866.9 509.5 870.7 508.1 874.8 506.6C878.9 505.1 882.8 503.8 887.2 501.3C891.6 498.8 896.9 495 901.3 491.6C905.7 488.2 909.6 484.8 913.7 481C917.8 477.2 922.3 471.9 926.1 468.6C929.9 465.3 933.2 463 936.7 461C940.2 459 943.4 457.9 947.3 456.7C951.2 455.5 955.5 455.2 960.2 453.6C964.9 452.1 971 449.3 975.3 447.4C979.6 445.5 982.1 443.9 985.9 442.1C989.7 440.3 995.3 437.8 998.3 436.8C1001.2 435.8 1001.5 435.8 1003.6 435.9C1005.7 436 1007.8 436.9 1010.7 437.7C1013.7 438.5 1017.8 440 1021.3 440.8C1024.8 441.6 1028.5 442 1031.9 442.6C1035.3 443.2 1040 444.1 1041.6 444.4" stroke="#f47a2c" stroke-width="1.2" fill="none" stroke-linejoin="round"/>
<path d="M8.8 503C10.4 501.8 15.3 498.4 18.4 496C21.5 493.6 24.5 490.6 27.6 488.7C30.7 486.8 33.1 485.4 36.8 484.6C40.5 483.8 44.5 484.7 49.7 484C54.9 483.3 63.5 480.6 68.1 480.4C72.7 480.2 72.7 481.3 77.3 482.8C81.9 484.3 88.7 487.2 95.8 489.6C102.9 492 113 496.1 119.7 497C126.5 497.9 131.7 495.1 136.3 495.1C140.9 495.1 143.3 495.7 147.3 497C151.3 498.3 155.3 501.3 160.2 503C165.1 504.7 171.8 506.1 176.8 507.1C181.8 508.1 185 508.7 190 509.2C195 509.7 201.1 509.7 206.7 510.3C212.2 510.9 217.8 512.6 223.3 513C228.9 513.4 235.3 512.7 240 512.5C244.7 512.3 248.9 512.7 251.7 512C254.5 511.3 254.8 510 256.7 508.3C258.6 506.6 260.8 503.6 263.3 501.7C265.8 499.8 268.4 498.2 271.7 497C275 495.8 279.1 495.2 283.3 494.7C287.5 494.2 292.8 495.3 296.7 494.2C300.6 493.1 303.4 489.8 306.7 488C310 486.2 313.4 484.1 316.7 483.3C320 482.5 322.8 483 326.7 483.3C330.6 483.6 336.1 483.8 340 485C343.9 486.2 346.7 489.3 350 490.8C353.3 492.3 356.7 494.8 360 494.2C363.3 493.6 366.4 489 370 487.5C373.6 486 379.2 485.7 381.7 485.3C384.2 484.9 382.5 484.8 385 485.3C387.5 485.8 392 486.4 396.7 488.3C401.4 490.2 408.6 493.9 413.3 496.7C418 499.5 421.4 502.9 425 505C428.6 507.1 431.4 507.2 435 509.2C438.6 511.1 443.1 514.5 446.7 516.7C450.3 518.9 453.9 521.3 456.7 522.5C459.5 523.7 459.4 523.7 463.3 523.7C467.2 523.7 474.4 523.1 480 522.5C485.6 521.9 491.1 520.8 496.7 520.3C502.2 519.8 508.6 520.6 513.3 519.7C518 518.8 521.7 516.3 525 515C528.3 513.7 530.5 513 533.3 512C536.1 511 539.5 510.4 541.7 509.2C543.9 508 544.8 507.1 546.7 505C548.6 502.9 551.1 499.1 553.3 496.7C555.5 494.3 557.5 492.2 560 490.8C562.5 489.4 565.5 488.9 568.3 488.3C571.1 487.8 573.6 487.2 576.7 487.5C579.8 487.8 582.3 488.6 586.7 490C591.1 491.4 598.9 493.6 603.3 495.8C607.7 498 610 500.2 613.3 503.3C616.6 506.4 620 511.4 623.3 514.2C626.6 517 629.7 518.6 633.3 520C636.9 521.4 641.7 522.4 645 522.5C648.3 522.6 649.7 522 653.3 520.8C656.9 519.5 662.5 517.1 666.7 515C670.9 512.9 674.4 510.5 678.3 508.3C682.2 506.1 686.9 503.2 690 501.7C693.1 500.2 693.1 499.7 696.7 499.2C700.3 498.7 707.3 498.5 711.7 498.7C716.1 498.9 719.1 500.2 723.3 500.3C727.5 500.4 732.8 500.4 736.7 499.2C740.6 498 743.4 494.4 746.7 493.3C750 492.2 753.7 492.4 756.7 492.5C759.8 492.6 762.7 493.8 765 494.2C767.3 494.6 767.6 494.4 770.6 495.1C773.6 495.8 778.9 497.9 783 498.6C787.1 499.3 791.2 498.3 795.3 499.2C799.4 500.1 804.2 502.2 807.7 503.9C811.2 505.6 813.3 507.1 816.5 509.2C819.7 511.3 823.6 515.7 827.1 516.3C830.6 516.9 834.5 514 837.7 512.8C841 511.6 842.5 509.8 846.6 509.2C850.7 508.6 858.1 510.2 862.5 509.2C866.9 508.2 869.6 505.9 873.1 503C876.6 500.1 880.2 495.3 883.7 491.6C887.2 487.9 890.5 484.2 894.3 481C898.1 477.8 903.1 475.4 906.6 472.1C910.1 468.9 912.9 464 915.5 461.5C918.1 459 920.5 458 922.5 457.1C924.5 456.2 925.1 457.2 927.8 456.2C930.4 455.2 935.5 451.5 938.4 450.9C941.3 450.2 942.5 452.1 945.4 452.3C948.3 452.5 953 452.7 955.9 452.2C958.8 451.7 960.6 450.7 963 449.2C965.4 447.7 967.6 444.4 970 443C972.4 441.6 974.7 441.7 977.1 440.8C979.5 439.9 981.6 439.2 984.2 437.7C986.9 436.2 991 433.1 993 432C995 430.9 995 430.9 996.5 431C998 431.1 1000 431.4 1001.8 432.7C1003.6 434 1005 436.6 1007.1 438.6C1009.2 440.6 1012.1 443.6 1014.2 444.7C1016.3 445.8 1017.1 445.1 1019.5 445.3C1021.9 445.5 1026 445.8 1028.3 445.6C1030.6 445.4 1032 444 1033.6 443.9C1035.2 443.8 1036.8 443.9 1038.1 444.7C1039.4 445.5 1041 448 1041.6 448.6" stroke="#2f7ee0" stroke-width="1.2" fill="none" stroke-linejoin="round"/>
<path d="M8.1 596L11.9 580.8L16.9 570.6L22.9 557L27.1 555.3L31.4 558.4L35.6 564.7L42.4 564.7L46.6 565.5L50 567.2L57.6 557L61.9 556.5L68.6 559.1L76.3 568.9L81.4 579.9L84.7 579.9L88.1 578.7L96.6 588.4L101.7 594.3L108.5 596.9L113.6 596.4L117.8 595.2L122 586.7L127.1 580.8L130.5 574.3L134.7 576L139.8 583.3L142.4 584.2L147.5 599.4L153.4 607.9L157.6 618.4L163.6 614.7L168.6 613.8L178 621.4L180.5 622.3L183.9 619.4L189.8 624L198.5 624.5L203.6 622.3L206.9 624.8L211.2 625.7L218 637L222.2 632.5L226.4 625.2L230.7 625.2L234.9 626.5L240.8 634.2L245.9 635.3L249.3 624.8L253.6 599.4L256.9 576.5L260.3 579.9L263.7 572.3L269.7 575.7L276.4 578.2L283.2 577.4L288.3 585L290.8 586.2L295.9 579.9L301.9 563L306.9 560.1L311.2 562.1L314.6 560.8L318 560.8L323.1 568.9L325.6 568.9L329.8 579.4L334.1 578.2L337.5 573.1L340.8 571.9L345.9 595.7L348.5 598.6L353.6 595.7L356.1 597.7L360.3 594.3L365.4 573.6L369.7 570.3L373 571.4L376.4 575.3L383.3 575.3L386.8 583.3L390.2 585.8L395.3 590.1L401.2 593.5L406.3 601.4L412.2 607L419 613.8L425.8 623.5L429.2 621.8L433.4 621.4L436.8 620.1L441 632.5L445.3 629.1L455.9 637.5L463.1 625.7L467.3 620.6L474.9 623.1L480 627.4L483.4 627.4L485.9 618.9L491 617.7L495.3 619.7L501.2 624.8L505.8 628.2L510.5 624L517.3 618.9L521.5 612.1L525.8 602L529.2 598.1L532.5 606.2L535.9 605.8L543.6 594.3L546.1 579.9L551.2 566.4L559.7 570.6L566.4 576.5L573.2 576.2L578.5 581.6L582.7 589.6L586.1 590.9L590.3 588.4L594.6 589.6L598 596L601.4 605.3L605.6 610.4L609.8 624.8L613.2 632L620.8 632.5L627.6 632.5L634.4 632L639.5 633L643.2 634.2L648 629.1L654.7 612.1L659 608.2L663.2 609.9L667.5 607L673.4 596L681.9 590.1L686.9 581.1L690.3 578.2L693.7 579.1L698 584.2L701.4 590.6L704.7 587.9L708.1 590.6L713.2 594.3L720.8 603.1L724.2 602.5L727.6 595.2L731.9 588.4L735.8 586.7L739.5 578.2L742.9 570.6L746.3 569.2L753 578.2L761.5 588.4L765.1 590.9L771 598L777.8 602.5L785.4 599.4L789.7 591.8L793.1 591.8L796.4 603.6L800.7 612.6L804.4 615L810.8 626.5L817.6 632.5L823.6 637.5L829.5 618.1L834.6 601.4L839.7 600.8L846.4 598L850.7 607L854.9 611.3L858.3 608.7L861.7 610.4L868.5 586.7L873.6 579.1L880.3 575.3L885.4 567.5L892.2 560.4L896.4 558.4L899.8 563L904.1 560.4L911.7 551.6L917.6 549.9L920.2 550.3L927 558.7L930.3 554.5L934.6 552.3L938.8 551.6L942.2 561.3L946.2 566.9L951 561.8L956.9 559.6L965.4 551.6L968.8 550.6L973.9 554.5L980.7 550.3L985.8 548.6L994.2 545.5L996.8 546.9L1001 558.7L1006.9 575.3L1014.6 570.6L1019.7 564.7L1026.4 563L1031.5 558.7L1034.1 557.9L1038.3 566.4L1041.7 578.2" stroke="#6c54bf" stroke-width="1.1" fill="none" stroke-linejoin="round"/></g>
<path d="M8 419H1191.5M8 534H1191.5" stroke="#e1e1e1" stroke-width="1" fill="none"/><rect x="8" y="8.2" width="1183.5" height="662.5" fill="none" stroke="#e1e1e1" stroke-width="1"/>
<g clip-path="url(#ca)"><g transform="translate(1141 0) scale(0.92 1) translate(-1141 0)"><text x="1141" y="12" class="ax">3,100,000</text><text x="1141" y="96.9" class="ax">2,800,000</text><text x="1141" y="126.4" class="ax">2,700,000</text><text x="1141" y="158.2" class="ax">2,600,000</text><text x="1141" y="191" class="ax">2,500,000</text><text x="1141" y="218" class="ax">2,420,000</text><text x="1141" y="245.7" class="ax">2,340,000</text><text x="1141" y="274.9" class="ax">2,260,000</text><text x="1141" y="303" class="ax">2,185,000</text><text x="1141" y="334.1" class="ax">2,105,000</text><text x="1141" y="366.3" class="ax">2,025,000</text><text x="1141" y="391.4" class="ax">1,965,000</text><text x="1141" y="417.2" class="ax">1,905,000</text><text x="1141" y="429.8" class="ax">150,000</text><text x="1141" y="481.2" class="ax">50,000</text><text x="1141" y="506.6" class="ax">0</text><text x="1141" y="531.4" class="ax">50,000-</text><text x="1141" y="561.4" class="ax">80.00</text><text x="1141" y="588.8" class="ax">60.00</text><text x="1141" y="614.9" class="ax">40.00</text><text x="1141" y="642.2" class="ax">20.00</text></g><rect x="1134.2" y="29.1" width="53.2" height="13.5" rx="1.5" fill="#f23645"/><rect x="1134.2" y="55.2" width="53.2" height="14" rx="1.5" fill="#f23645"/><rect x="1134.2" y="68.8" width="53.2" height="14" rx="1.5" fill="#f23645"/><rect x="1134.2" y="106.1" width="53.2" height="13.2" rx="1.5" fill="#089981"/><rect x="1134.2" y="165.2" width="53.2" height="13.2" rx="1.5" fill="#089981"/><rect x="1134.2" y="428.6" width="45.8" height="13.5" rx="1.5" fill="#ff6d00"/><rect x="1134.2" y="442.1" width="45.8" height="14.1" rx="1.5" fill="#2196f3"/><rect x="1134.2" y="500.2" width="37.6" height="13.4" rx="1.5" fill="#f03a48"/><rect x="1134.2" y="572" width="33.8" height="13.5" rx="1.5" fill="#7e57c2"/><g transform="translate(1141 0) scale(0.92 1) translate(-1141 0)"><text x="1141" y="39.5" class="axw">3,000,000</text><text x="1141" y="65.9" class="axw">2,871,133</text><text x="1141" y="79.5" class="axw">2,857,311</text><text x="1141" y="116.3" class="axw">2,734,645</text><text x="1141" y="175.5" class="axw">2,548,227</text><text x="1141" y="439" class="axw">114,914</text><text x="1141" y="452.8" class="axw">106,654</text><text x="1141" y="510.5" class="axw">8,259-</text><text x="1141" y="582.4" class="axw">64.95</text></g></g>
</svg>
<div class="t fa" style="left:15px;top:14px;transform:scaleX(0.883);">شاخص کل, بورس</div>
<div class="t fa" style="left:91px;top:14px;transform:scaleX(0.899);">اولین</div>
<div class="t rd" style="left:112px;top:14px;transform:scaleX(0.911);">2,892,327</div>
<div class="t fa" style="left:160px;top:14px;transform:scaleX(0.939);">بیشترین</div>
<div class="t rd" style="left:194px;top:14px;transform:scaleX(0.918);">2,892,327</div>
<div class="t fa" style="left:240.7px;top:14px;transform:scaleX(0.952);">کمترین</div>
<div class="t rd" style="left:270.7px;top:14px;transform:scaleX(0.933);">2,857,311</div>
<div class="t fa" style="left:319.3px;top:14px;transform:scaleX(0.923);">آخرین</div>
<div class="t rd" style="left:343.3px;top:14px;transform:scaleX(0.935);">2,857,311</div>
<div class="t rd" style="left:392px;top:14px;transform:scaleX(0.949);">-53,695 (−1.84%)</div>
<div class="t fa" style="left:15px;top:28px;transform:scaleX(1.017);">حجم</div>
<div class="t" style="left:38px;top:28px;transform:scaleX(0.970);">(SMA, 9)</div>
<div class="t" style="left:84px;top:28px;transform:scaleX(0.929);color:#f7525f">13.88B</div>
<div class="t" style="left:14.7px;top:425px;transform:scaleX(0.967);">MACD (12, 26, close, 9)</div>
<div class="t" style="left:125.2px;top:425px;transform:scaleX(0.928);color:#f7525f">-8,259</div>
<div class="t" style="left:158.7px;top:425px;transform:scaleX(0.931);color:#2196f3">106,654</div>
<div class="t" style="left:199px;top:425px;transform:scaleX(0.942);color:#ff6d00">114,914</div>
<div class="t" style="left:15.3px;top:540.7px;transform:scaleX(0.939);">RSI (14, SMA, 14)</div>
<div class="t" style="left:99.2px;top:540.7px;transform:scaleX(0.996);color:#7a62c4">64.95</div>
<div class="t fa" style="left:10.2px;top:653px;transform:scaleX(0.951);">آذر</div>
<div class="t" style="left:85px;top:653px;transform:scaleX(0.984);font-weight:bold">1402</div>
<div class="t fa" style="left:173px;top:653px;transform:scaleX(0.991);">بهمن</div>
<div class="t fa" style="left:242px;top:653px;transform:scaleX(0.922);">اسفند</div>
<div class="t fa" style="left:307px;top:653px;transform:scaleX(0.846);">فروردین</div>
<div class="t fa" style="left:379px;top:653px;transform:scaleX(0.929);">اردیبهشت</div>
<div class="t fa" style="left:456.7px;top:653px;transform:scaleX(0.936);">خرداد</div>
<div class="t fa" style="left:530px;top:653px;transform:scaleX(1.041);">تیر</div>
<div class="t fa" style="left:602.7px;top:653px;transform:scaleX(0.896);">مرداد</div>
<div class="t fa" style="left:675px;top:653px;transform:scaleX(0.878);">شهریور</div>
<div class="t fa" style="left:755px;top:653px;transform:scaleX(0.887);">مهر</div>
<div class="t fa" style="left:839px;top:653px;transform:scaleX(0.922);">آبان</div>
<div class="t fa" style="left:921.7px;top:653px;transform:scaleX(0.895);">آذر</div>
<div class="t" style="left:1004px;top:653px;transform:scaleX(0.970);font-weight:bold">1403</div>
<div class="t fa" style="left:1085px;top:653px;transform:scaleX(0.991);">بهمن</div>
</body></html>
